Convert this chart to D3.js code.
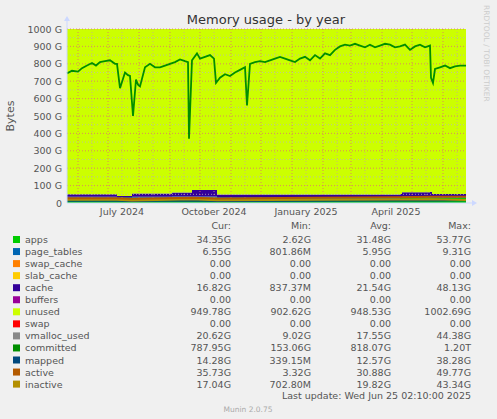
<!DOCTYPE html>
<html><head><meta charset="utf-8">
<script src="https://cdn.jsdelivr.net/npm/d3@7"></script>
<style>
body{margin:0;background:#f0f0f0;}
text{font-family:"DejaVu Sans",sans-serif;}
</style></head>
<body><svg id="chart" width="497" height="419"></svg>
<script>
// committed line, sampled by day offset from 2024-05-21
var commDays = [0,5,11,15,20,25,29,33,38,43,48,50,53,58,61,63,66,69,71,73,78,83,88,93,98,103,108,113,118,121,122,125,130,133,138,143,147,149,153,158,163,168,173,178,180,183,188,193,198,203,208,213,218,223,228,233,238,243,248,253,258,263,268,273,278,283,288,293,298,303,308,313,318,323,328,333,338,343,348,353,358,363,364,366,368,373,378,383,388,393,399];
var commVals = [745,760,755,775,790,805,790,810,815,820,800,800,660,750,735,730,500,710,680,670,780,800,780,780,790,800,810,825,815,810,370,820,860,830,840,850,830,690,720,740,730,750,765,780,560,800,810,815,810,820,830,840,830,820,810,830,840,820,850,830,860,850,880,900,910,905,915,905,895,910,895,905,915,910,895,900,910,880,900,910,895,905,720,690,770,780,790,775,785,790,790];

// stacked series on a coarse grid (G)
var stackDays = [0,48,50,63,65,103,105,123,125,148,150,333,335,363,365,399];
var apps      = [30,30,28,28,30,30,31,31,32,32,28,29,31,33,30,31];
var pageTables= [6,6,6,6,6,6,6,6,6,6,6,6,6,7,7,7];
var cache     = [14,14,6,6,19,19,24,24,36,36,15,17,25,25,15,14];
var memTotal  = 1003;

var legend = [
 ["apps","#00CC00","34.35G","2.62G","31.48G","53.77G"],
 ["page_tables","#0066B3","6.55G","801.86M","5.95G","9.31G"],
 ["swap_cache","#FF8000","0.00","0.00","0.00","0.00"],
 ["slab_cache","#FFCC00","0.00","0.00","0.00","0.00"],
 ["cache","#330099","16.82G","837.37M","21.54G","48.13G"],
 ["buffers","#990099","0.00","0.00","0.00","0.00"],
 ["unused","#CCFF00","949.78G","902.62G","948.53G","1002.69G"],
 ["swap","#FF0000","0.00","0.00","0.00","0.00"],
 ["vmalloc_used","#888888","20.62G","9.02G","17.55G","44.38G"],
 ["committed","#008F00","787.95G","153.06G","818.07G","1.20T"],
 ["mapped","#00487D","14.28G","339.15M","12.57G","38.28G"],
 ["active","#B35A00","35.73G","3.32G","30.88G","49.77G"],
 ["inactive","#B38F00","17.04G","702.80M","19.82G","43.34G"]
];
var lineDays = [0,50,65,125,150,250,333,365,399];
var vmalloc  = [18,18,17,20,16,17,18,20,20];
var mapped   = [12,12,10,13,10,12,13,13,14];
var active   = [28,28,24,30,26,30,33,36,36];
var inactive = [18,18,14,22,16,19,20,22,17];

var start = new Date(2024,4,21);
function dt(d){ return d3.timeDay.offset(start, d); }

var svg = d3.select("#chart");
var L=67,R=466,T=29,B=203;
var x = d3.scaleTime().domain([start, dt(399)]).range([L,R]);
var y = d3.scaleLinear().domain([0,1000]).range([B,T]);

svg.append("text").attr("x",266).attr("y",24).attr("text-anchor","middle")
  .attr("font-size",13).attr("fill","#333").text("Memory usage - by year");
svg.append("text").attr("transform","translate(14,116) rotate(-90)").attr("text-anchor","middle")
  .attr("font-size",11).attr("fill","#555").text("Bytes");
svg.append("text").attr("transform","translate(484,5) rotate(90)")
  .attr("font-size",7.5).attr("fill","#ccc").text("RRDTOOL / TOBI OETIKER");

// stacked areas
var stacked = stackDays.map(function(d,i){
  var a=apps[i], p=pageTables[i], c=cache[i];
  return {d:d, a:a, p:a+p, c:a+p+c, u:memTotal};
});
function band(lo,hi,col){
  svg.append("path").datum(stacked).attr("fill",col)
    .attr("d", d3.area().curve(d3.curveStepAfter).x(function(s){return x(dt(s.d));})
      .y0(function(s){return y(lo?s[lo]:0);}).y1(function(s){return Math.max(T,y(s[hi]));}));
}
band(null,"a","#00CC00");
band("a","p","#0066B3");
band("p","c","#330099");
band("c","u","#CCFF00");

// grid
var g = svg.append("g");
d3.range(50,1001,50).forEach(function(v){
  g.append("line").attr("x1",L).attr("x2",R).attr("y1",y(v)).attr("y2",y(v))
   .attr("stroke", v%100==0 ? "#e07070" : "#b8b8b8").attr("stroke-dasharray","1,2").attr("stroke-width",0.8);
});
d3.timeDay.range(dt(1),dt(399)).filter(function(d){return d.getDate()==1||d.getDate()==15;}).forEach(function(d){
  g.append("line").attr("x1",x(d)).attr("x2",x(d)).attr("y1",T).attr("y2",B)
   .attr("stroke", d.getDate()==1 ? "#e07070" : "#c8a890").attr("stroke-dasharray","1,2").attr("stroke-width",0.8);
});

// lines
function ln(days,vals,col,w){
  svg.append("path").datum(days.map(function(d,i){return [d,vals[i]];}))
   .attr("fill","none").attr("stroke",col).attr("stroke-width",w)
   .attr("d", d3.line().x(function(p){return x(dt(p[0]));}).y(function(p){return y(p[1]);}));
}
ln(lineDays,vmalloc,"#888888",1);
ln(lineDays,mapped,"#00487D",1.5);
ln(lineDays,inactive,"#B38F00",2);
ln(lineDays,active,"#B35A00",2);
ln(commDays,commVals,"#008F00",1.8);

// axes
svg.append("line").attr("x1",L).attr("x2",R+6).attr("y1",B).attr("y2",B).attr("stroke","#ccd8ff");
svg.append("line").attr("x1",L).attr("x2",L).attr("y1",B).attr("y2",T-8).attr("stroke","#ccd8ff");
svg.append("path").attr("d","M"+(R+6)+","+(B-3)+"l5,3l-5,3z").attr("fill","#ccd8ff");
svg.append("path").attr("d","M"+(L-3)+","+(T-8)+"l3,-5l3,5z").attr("fill","#ccd8ff");
var yl = [0,100,200,300,400,500,600,700,800,900,1000];
yl.forEach(function(v){
  svg.append("text").attr("x",L-5).attr("y",y(v)+3.5).attr("text-anchor","end")
   .attr("font-size",9.5).attr("fill","#555").text(v==0?"0":v+" G");
});
var xl = [[new Date(2024,6,15),"July 2024"],[new Date(2024,9,15),"October 2024"],[new Date(2025,0,15),"January 2025"],[new Date(2025,3,15),"April 2025"]];
xl.forEach(function(p){
  svg.append("text").attr("x",x(p[0])).attr("y",B+12).attr("text-anchor","middle")
   .attr("font-size",9.5).attr("fill","#555").text(p[1]);
});

// legend
var cols=[231,311,391,471];
["Cur:","Min:","Avg:","Max:"].forEach(function(h,i){
  svg.append("text").attr("x",cols[i]).attr("y",229).attr("text-anchor","end").attr("font-size",9.5).attr("fill","#555").text(h);
});
legend.forEach(function(r,i){
  var yy=243+i*12.05;
  svg.append("rect").attr("x",13).attr("y",yy-7).attr("width",7).attr("height",7).attr("fill",r[1]);
  svg.append("text").attr("x",25).attr("y",yy).attr("font-size",9.5).attr("fill","#555").text(r[0]);
  for(var k=0;k<4;k++) svg.append("text").attr("x",cols[k]).attr("y",yy).attr("text-anchor","end")
    .attr("font-size",9.5).attr("fill","#555").text(r[k+2]);
});
svg.append("text").attr("x",471).attr("y",399).attr("text-anchor","end").attr("font-size",9.5).attr("fill","#555")
  .text("Last update: Wed Jun 25 02:10:00 2025");
svg.append("text").attr("x",248).attr("y",412).attr("text-anchor","middle").attr("font-size",7.5).attr("fill","#aaa")
  .text("Munin 2.0.75");
</script></body></html>
